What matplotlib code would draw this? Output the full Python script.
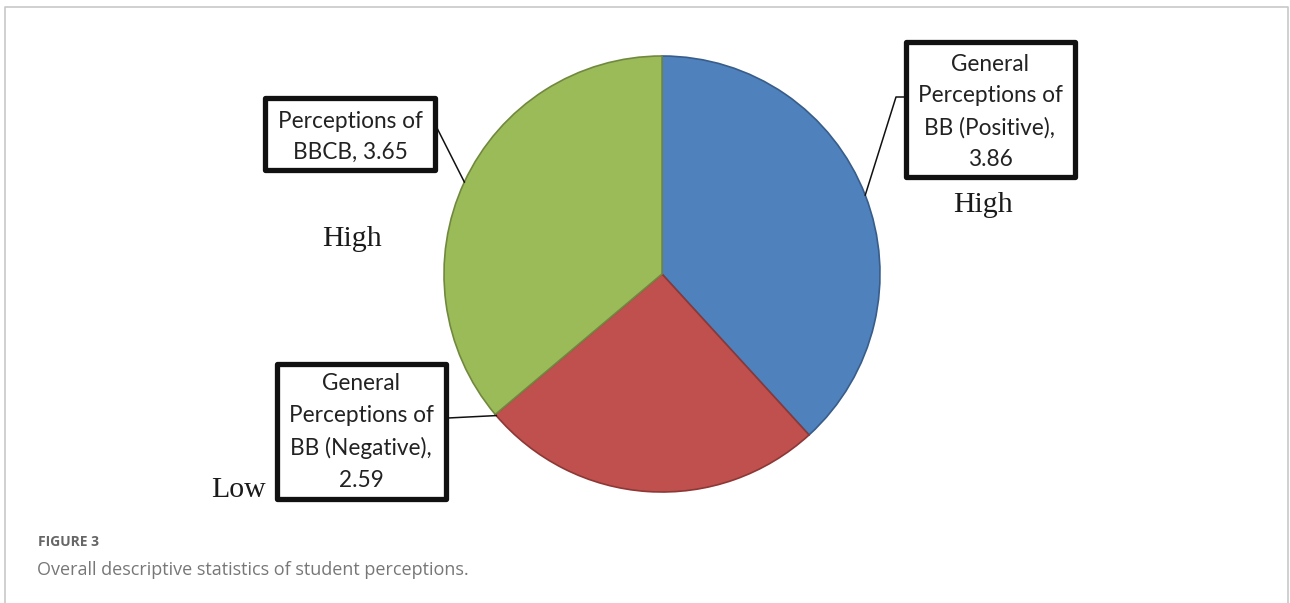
import matplotlib.pyplot as plt
from matplotlib.patches import Rectangle
import numpy as np

labels = ["General\nPerceptions of\nBB (Positive),\n3.86",
          "General\nPerceptions of\nBB (Negative),\n2.59",
          "Perceptions of\nBBCB, 3.65"]
values = [3.86, 2.59, 3.65]
levels = ["High", "Low", "High"]
colors = ["#4F81BD", "#C0504D", "#9BBB59"]
edges = ["#385D8A", "#8C3836", "#71893F"]

W, H = 1290, 603
fig = plt.figure(figsize=(W / 100, H / 100), dpi=100)
ax = fig.add_axes([0, 0, 1, 1])

def py(y):
    # pixel row -> data y
    return H - y

cx, cy, r = 662, py(274), 218
wedges, _ = ax.pie(values, colors=colors, startangle=90, counterclock=False,
                   center=(cx, cy), radius=r, frame=True,
                   wedgeprops=dict(linewidth=1.2))
for w, ec in zip(wedges, edges):
    w.set_edgecolor(ec)
ax.set_xlim(0, W)
ax.set_ylim(0, H)
ax.axis("off")

def edge_pt(theta):
    t = np.deg2rad(theta)
    return cx + r * np.cos(t), cy + r * np.sin(t)

# label boxes: (left, top, right, bottom) in pixels, text centre
boxes = [(906, 42, 1075, 177, 990, 112),
         (277, 364, 446, 499, 361, 432),
         (265, 98, 435, 170, 350, 137)]
box_font = dict(family=["Lato", "DejaVu Sans"], fontsize=16.3, color="#222222",
                ha="center", va="center", linespacing=1.62)
for (l, t, rr, b, tx, ty), lab in zip(boxes, labels):
    ax.add_patch(Rectangle((l, py(b)), rr - l, b - t, fill=False,
                           edgecolor="#111111", linewidth=3.8,
                           joinstyle="round", zorder=5))
    ax.text(tx, py(ty), lab, zorder=6, **box_font)

# leader lines
w0, w1, w2 = wedges
mx, my = edge_pt((w0.theta1 + w0.theta2) / 2)
ax.plot([905, 896, mx], [py(97), py(97), my], color="#111111", lw=1.1, zorder=4)
ex, ey = edge_pt(min(w1.theta1, w1.theta2) + 0.4)
ax.plot([448, ex], [py(418), ey], color="#111111", lw=1.1, zorder=4)
gx, gy = edge_pt((w2.theta1 + w2.theta2) / 2)
ax.plot([437, gx], [py(128), gy], color="#111111", lw=1.1, zorder=4)

serif = dict(family=["Liberation Serif", "DejaVu Serif"], fontsize=21.5,
             color="#1a1a1a", va="baseline", ha="center")
ax.text(983, py(212), levels[0], **serif)
ax.text(238, py(497), levels[1], **serif)
ax.text(352, py(246), levels[2], **serif)

# caption
ax.text(38, py(542), "FIGURE 3", family=["Open Sans", "DejaVu Sans"],
        fontsize=10, fontweight="bold", color="#666666", va="center")
ax.text(37, py(570), "Overall descriptive statistics of student perceptions.",
        family=["Open Sans", "DejaVu Sans"], fontsize=13, color="#777777",
        va="center")

# outer frame (open at bottom)
ax.plot([5, 5, 1288, 1288], [0, py(7), py(7), 0], color="#c8c8c8", lw=1.2,
        clip_on=False)

fig.savefig("out.png", dpi=100)
